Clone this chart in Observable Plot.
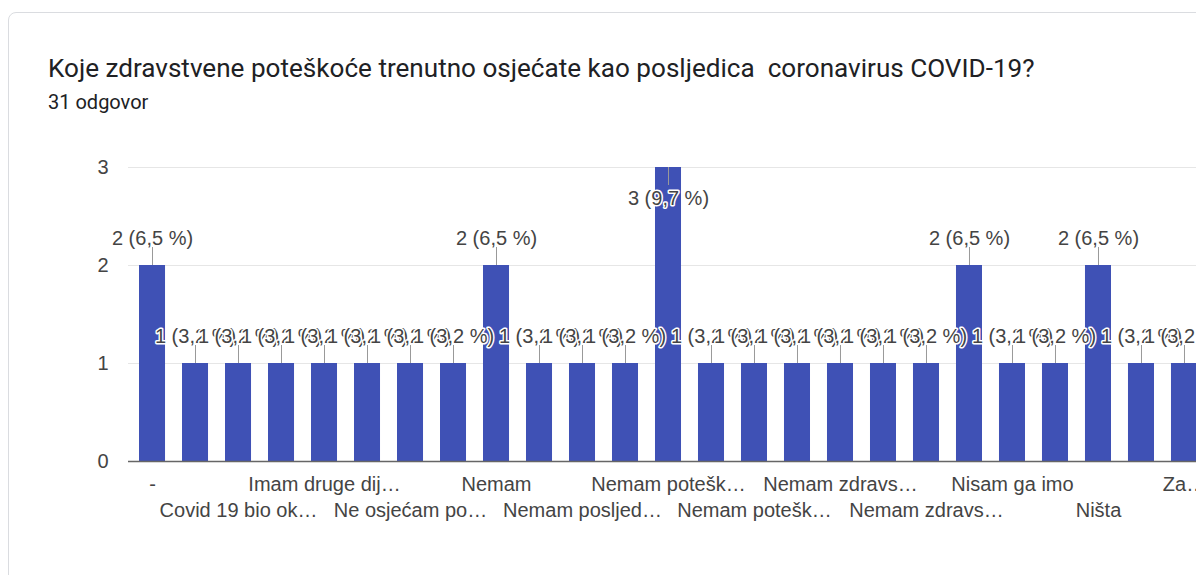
<!DOCTYPE html>
<html><head><meta charset="utf-8">
<script src="https://cdn.jsdelivr.net/npm/d3@7"></script>
<script src="https://cdn.jsdelivr.net/npm/@observablehq/plot@0.6"></script>
<style>
html,body{margin:0;padding:0;background:#fff;overflow:hidden;width:1196px;height:575px;position:relative}
#card{position:absolute;left:8px;top:12px;width:1400px;height:800px;border:1px solid #dadce0;border-radius:8px;box-sizing:border-box}
#title{position:absolute;left:48px;top:55px;font-family:Roboto,sans-serif;font-size:26.1px;font-weight:400;color:#202124;white-space:pre;line-height:26px}
#subtitle{position:absolute;left:48px;top:92px;font-family:Roboto,sans-serif;font-size:20px;color:#202124;line-height:20px}
#chart{position:absolute;left:0;top:130px}
</style></head>
<body>
<div id="card"></div>
<div id="title"></div>
<div id="subtitle"></div>
<div id="chart"></div>
<script>
const title = "Koje zdravstvene poteškoće trenutno osjećate kao posljedica  coronavirus COVID-19?";
const subtitle = "31 odgovor";
// Tick labels as displayed (hidden labels of in-between categories are blank)
const tickLabels = ["-", "", "Covid 19 bio ok…", "", "Imam druge dij…", "", "Ne osjećam po…", "",
  "Nemam", "", "Nemam posljed…", "", "Nemam potešk…", "", "Nemam potešk…", "",
  "Nemam zdravs…", "", "Nemam zdravs…", "", "Nisam ga imo", "", "Ništa", "", "Za…"];
const values = [2, 1, 1, 1, 1, 1, 1, 1, 2, 1, 1, 1, 3, 1, 1, 1, 1, 1, 1, 2, 1, 1, 2, 1, 1];
const yTicks = [0, 1, 2, 3];
const totalResponses = 31;

document.getElementById("title").textContent = title;
document.getElementById("subtitle").textContent = subtitle;

const data = values.map((v, i) => ({
  i, value: v,
  label: `${v} (${(v / totalResponses * 100).toFixed(1).replace(".", ",")} %)`
}));
const maxV = d3.max(values);
const idx = d3.range(values.length);

const chart = Plot.plot({
  width: 1210,
  height: 445,
  marginLeft: 128,
  marginRight: 2,
  marginTop: 37,
  marginBottom: 114,
  style: {fontFamily: "Arial, 'Liberation Sans', sans-serif", fontSize: "20px", color: "#444", background: "transparent", maxWidth: "none", overflow: "visible"},
  x: {type: "band", domain: idx, paddingInner: 0.395, paddingOuter: 0.256, align: 0.5, round: false},
  y: {domain: [0, 3]},
  marks: [
    Plot.gridY(yTicks, {stroke: "#e6e6e6", strokeOpacity: 1}),
    Plot.axisY(yTicks, {tickSize: 0, tickPadding: 20, label: null, fontSize: 20, tickFormat: d => String(d)}),
    Plot.barY(data, {x: "i", y: "value", fill: "#3f51b5"}),
    Plot.ruleY([0], {stroke: "#666", strokeWidth: 1.5}),
    Plot.axisX(idx.filter(i => i % 4 === 0), {tickSize: 0, tickPadding: 14.8, label: null, fontSize: 20, tickFormat: i => tickLabels[i]}),
    Plot.axisX(idx.filter(i => i % 4 === 2), {tickSize: 0, tickPadding: 40.8, label: null, fontSize: 20, tickFormat: i => tickLabels[i]}),
    Plot.ruleX(data.filter(d => d.value < maxV), {x: "i", y1: "value", y2: "value", insetBottom: 18, stroke: "#999", strokeWidth: 1}),
    Plot.ruleX(data.filter(d => d.value === maxV), {x: "i", y1: "value", y2: "value", insetTop: 18, stroke: "#999", strokeWidth: 1}),
    Plot.text(data.filter(d => d.value < maxV), {x: "i", y: "value", text: "label", dy: -27, fill: "#444", stroke: "white", strokeWidth: 3, fontSize: 20}),
    Plot.text(data.filter(d => d.value === maxV), {x: "i", y: "value", text: "label", dy: 31, fill: "#444", stroke: "white", strokeWidth: 3, fontSize: 20})
  ]
});
document.getElementById("chart").appendChild(chart);
</script>
</body></html>
